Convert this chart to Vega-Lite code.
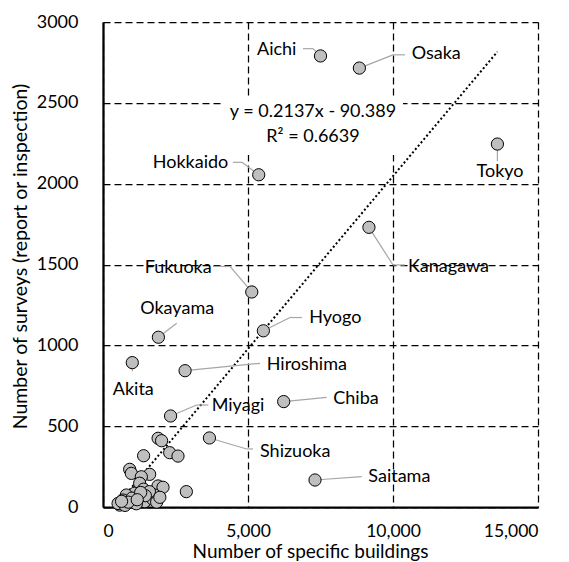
{
  "$schema": "https://vega.github.io/schema/vega-lite/v6.json",
  "width": 435,
  "height": 485,
  "autosize": {"type": "none"},
  "padding": {"left": 103, "top": 22, "right": 31, "bottom": 55},
  "background": "white",
  "config": {
    "view": {"stroke": null},
    "font": "Lato",
    "text": {"font": "Lato", "fontSize": 18, "color": "#000000"}
  },
  "datasets": {
    "points": [
      {"pref": "Tokyo", "buildings": 13600, "surveys": 2245},
      {"pref": "Aichi", "buildings": 7500, "surveys": 2790},
      {"pref": "Osaka", "buildings": 8840, "surveys": 2715},
      {"pref": "Kanagawa", "buildings": 9170, "surveys": 1730},
      {"pref": "Hokkaido", "buildings": 5370, "surveys": 2055},
      {"pref": "Fukuoka", "buildings": 5130, "surveys": 1330},
      {"pref": "Hyogo", "buildings": 5530, "surveys": 1090},
      {"pref": "Okayama", "buildings": 1910, "surveys": 1050},
      {"pref": "Akita", "buildings": 1010, "surveys": 893},
      {"pref": "Hiroshima", "buildings": 2830, "surveys": 843},
      {"pref": "Chiba", "buildings": 6230, "surveys": 652},
      {"pref": "Miyagi", "buildings": 2330, "surveys": 563},
      {"pref": "Shizuoka", "buildings": 3670, "surveys": 427},
      {"pref": "Saitama", "buildings": 7310, "surveys": 167},
      {"pref": "", "buildings": 1900, "surveys": 425},
      {"pref": "", "buildings": 2020, "surveys": 410},
      {"pref": "", "buildings": 2300, "surveys": 336},
      {"pref": "", "buildings": 2586, "surveys": 315},
      {"pref": "", "buildings": 1400, "surveys": 317},
      {"pref": "", "buildings": 920, "surveys": 233},
      {"pref": "", "buildings": 977, "surveys": 208},
      {"pref": "", "buildings": 1609, "surveys": 202},
      {"pref": "", "buildings": 1322, "surveys": 187},
      {"pref": "", "buildings": 1264, "surveys": 147},
      {"pref": "", "buildings": 1897, "surveys": 130},
      {"pref": "", "buildings": 2069, "surveys": 122},
      {"pref": "", "buildings": 2874, "surveys": 95},
      {"pref": "", "buildings": 1782, "surveys": 74},
      {"pref": "", "buildings": 1092, "surveys": 85},
      {"pref": "", "buildings": 805, "surveys": 74},
      {"pref": "", "buildings": 690, "surveys": 43},
      {"pref": "", "buildings": 1437, "surveys": 33},
      {"pref": "", "buildings": 575, "surveys": 12},
      {"pref": "", "buildings": 520, "surveys": 22},
      {"pref": "", "buildings": 760, "surveys": 10},
      {"pref": "", "buildings": 1150, "surveys": 20},
      {"pref": "", "buildings": 1720, "surveys": 48},
      {"pref": "", "buildings": 1850, "surveys": 30},
      {"pref": "", "buildings": 1000, "surveys": 55},
      {"pref": "", "buildings": 1400, "surveys": 110},
      {"pref": "", "buildings": 1600, "surveys": 95},
      {"pref": "", "buildings": 1460, "surveys": 70},
      {"pref": "", "buildings": 1960, "surveys": 60},
      {"pref": "", "buildings": 870, "surveys": 30},
      {"pref": "", "buildings": 640, "surveys": 35},
      {"pref": "", "buildings": 1300, "surveys": 90},
      {"pref": "", "buildings": 1180, "surveys": 45}
    ],
    "leaders": [
      {"x": 6897, "y": 2835, "x2": 7241, "y2": 2835},
      {"x": 7241, "y": 2835, "x2": 7500, "y2": 2790},
      {"x": 8840, "y": 2715, "x2": 10000, "y2": 2797},
      {"x": 10000, "y": 2797, "x2": 10414, "y2": 2797},
      {"x": 13600, "y": 2245, "x2": 13600, "y2": 2140},
      {"x": 9170, "y": 1730, "x2": 10000, "y2": 1497},
      {"x": 10000, "y": 1497, "x2": 10414, "y2": 1497},
      {"x": 4483, "y": 2132, "x2": 4793, "y2": 2132},
      {"x": 4793, "y": 2132, "x2": 5370, "y2": 2055},
      {"x": 3793, "y": 1488, "x2": 4379, "y2": 1488},
      {"x": 4379, "y": 1488, "x2": 5130, "y2": 1330},
      {"x": 5530, "y": 1090, "x2": 6450, "y2": 1172},
      {"x": 6450, "y": 1172, "x2": 6860, "y2": 1172},
      {"x": 1910, "y": 1050, "x2": 2541, "y2": 1136},
      {"x": 1010, "y": 893, "x2": 1010, "y2": 840},
      {"x": 2830, "y": 843, "x2": 5414, "y2": 889},
      {"x": 6230, "y": 652, "x2": 7714, "y2": 678},
      {"x": 2330, "y": 563, "x2": 3231, "y2": 631},
      {"x": 3231, "y": 631, "x2": 3631, "y2": 631},
      {"x": 3670, "y": 427, "x2": 4955, "y2": 359},
      {"x": 4955, "y": 359, "x2": 5172, "y2": 359},
      {"x": 7310, "y": 167, "x2": 8920, "y2": 188}
    ],
    "labelsLeft": [
      {"pref": "Aichi", "x": 5310, "y": 2827},
      {"pref": "Osaka", "x": 10645, "y": 2802},
      {"pref": "Kanagawa", "x": 10517, "y": 1486},
      {"pref": "Hyogo", "x": 7114, "y": 1167},
      {"pref": "Hiroshima", "x": 5645, "y": 878},
      {"pref": "Chiba", "x": 7941, "y": 668},
      {"pref": "Miyagi", "x": 3748, "y": 625},
      {"pref": "Shizuoka", "x": 5414, "y": 342},
      {"pref": "Saitama", "x": 9148, "y": 184}
    ],
    "labelsRight": [
      {"pref": "Hokkaido", "x": 4321, "y": 2126},
      {"pref": "Fukuoka", "x": 3748, "y": 1478}
    ],
    "labelsCenter": [
      {"pref": "Tokyo", "x": 13690, "y": 2074},
      {"pref": "Okayama", "x": 2558, "y": 1223},
      {"pref": "Akita", "x": 1045, "y": 724}
    ],
    "trend": [
      {"x": 520, "y": 21},
      {"x": 13600, "y": 2816}
    ],
    "eqbox": [
      {"x": 4100, "x2": 10345, "y": 2177, "y2": 2536}
    ],
    "eq": [
      {"text": "y = 0.2137x - 90.389", "x": 7241, "y": 2442},
      {"text": "R² = 0.6639", "x": 7241, "y": 2287}
    ]
  },
  "layer": [
    {
      "data": {"name": "eqbox"},
      "mark": {"type": "rect", "fill": "white", "stroke": null},
      "encoding": {
        "x": {
          "field": "x", "type": "quantitative",
          "scale": {"domain": [0, 15000], "nice": false, "zero": true},
          "axis": {
            "values": [0, 5000, 10000, 15000],
            "format": ",.0f",
            "title": "Number of specific buildings",
            "grid": true,
            "gridColor": "#000000",
            "gridDash": [7, 4],
            "gridWidth": 1.25,
            "gridOpacity": 1,
            "domain": true,
            "domainColor": "#000000",
            "domainWidth": 2.25,
            "ticks": false,
            "labelPadding": 15,
            "labelFont": "Lato",
            "labelFontSize": 17.5,
            "labelColor": "#000000",
            "titleFont": "Lato",
            "titleFontSize": 19,
            "titleFontWeight": "normal",
            "titleColor": "#000000",
            "titleX": 207,
            "titleY": 50,
            "titleAlign": "center",
            "titleBaseline": "alphabetic"
          }
        },
        "x2": {"field": "x2"},
        "y": {
          "field": "y", "type": "quantitative",
          "scale": {"domain": [0, 3000], "nice": false},
          "axis": {
            "values": [0, 500, 1000, 1500, 2000, 2500, 3000],
            "format": "d",
            "title": "Number of surveys (report or inspection)",
            "grid": true,
            "gridColor": "#000000",
            "gridDash": [7, 4],
            "gridWidth": 1.25,
            "gridOpacity": 1,
            "domain": true,
            "domainColor": "#000000",
            "domainWidth": 2.25,
            "ticks": false,
            "labelPadding": 25,
            "labelFont": "Lato",
            "labelFontSize": 18,
            "labelColor": "#000000",
            "titleFont": "Lato",
            "titleFontSize": 19.5,
            "titleFontWeight": "normal",
            "titleColor": "#000000",
            "titleX": -83,
            "titleY": 234,
            "titleAlign": "center",
            "titleBaseline": "middle",
            "titleAngle": -90
          }
        },
        "y2": {"field": "y2"}
      }
    },
    {
      "data": {"name": "trend"},
      "mark": {"type": "line", "color": "#000000", "strokeWidth": 2, "strokeDash": [2, 2.4]},
      "encoding": {
        "x": {"field": "x", "type": "quantitative"},
        "y": {"field": "y", "type": "quantitative"}
      }
    },
    {
      "data": {"name": "leaders"},
      "mark": {"type": "rule", "color": "#a6a6a6", "strokeWidth": 1.2},
      "encoding": {
        "x": {"field": "x", "type": "quantitative"},
        "y": {"field": "y", "type": "quantitative"},
        "x2": {"field": "x2"},
        "y2": {"field": "y2"}
      }
    },
    {
      "data": {"name": "points"},
      "mark": {"type": "circle", "size": 150, "fill": "#bfbfbf", "stroke": "#000000", "strokeWidth": 1, "opacity": 1, "fillOpacity": 1},
      "encoding": {
        "x": {"field": "buildings", "type": "quantitative"},
        "y": {"field": "surveys", "type": "quantitative"}
      }
    },
    {
      "data": {"name": "labelsLeft"},
      "mark": {"type": "text", "align": "left", "baseline": "middle"},
      "encoding": {
        "x": {"field": "x", "type": "quantitative"},
        "y": {"field": "y", "type": "quantitative"},
        "text": {"field": "pref"}
      }
    },
    {
      "data": {"name": "labelsRight"},
      "mark": {"type": "text", "align": "right", "baseline": "middle"},
      "encoding": {
        "x": {"field": "x", "type": "quantitative"},
        "y": {"field": "y", "type": "quantitative"},
        "text": {"field": "pref"}
      }
    },
    {
      "data": {"name": "labelsCenter"},
      "mark": {"type": "text", "align": "center", "baseline": "middle"},
      "encoding": {
        "x": {"field": "x", "type": "quantitative"},
        "y": {"field": "y", "type": "quantitative"},
        "text": {"field": "pref"}
      }
    },
    {
      "data": {"name": "eq"},
      "mark": {"type": "text", "align": "center", "baseline": "middle"},
      "encoding": {
        "x": {"field": "x", "type": "quantitative"},
        "y": {"field": "y", "type": "quantitative"},
        "text": {"field": "text"}
      }
    }
  ]
}
